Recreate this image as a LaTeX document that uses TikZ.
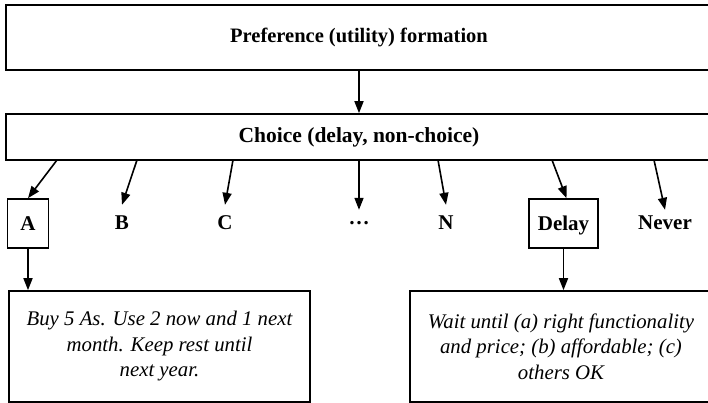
\documentclass[tikz,border=0pt]{standalone}
\usepackage{fontspec}
\setmainfont{Liberation Serif}
\usetikzlibrary{arrows.meta}
\tikzset{box/.style={
		draw,
		line width=1.6pt,
		text height=15pt,
		text depth=2pt,
		font=\fontsize{21}{22}\selectfont\bfseries},
	opt/.style={
		minimum height=36pt,
		text height=15pt,
		text depth=2pt,
		font=\fontsize{21}{22}\selectfont\bfseries},
	note/.style={
		draw,
		line width=1.6pt,
		align=flush center,
		font=\fontsize{20.8}{25.5}\selectfont\itshape},
	arr/.style={
		-{Triangle[length=12pt,width=9pt]},
		line width=1.6pt}
	}

\begin{document}
\begin{tikzpicture}[x=1pt,y=-1pt]
			\clip (0,0) rectangle (708,403);
			\node [draw, line width=1.6pt, font=\fontsize{20.5}{22}\selectfont\bfseries, minimum width=706pt, minimum height=65pt] (pref) at (359,37.5) {Preference (utility) formation};
			\node [draw, line width=1.6pt, font=\fontsize{21.5}{22}\selectfont\bfseries, minimum width=706pt, minimum height=46pt] (choice) at (359,137) {Choice (delay, non-choice)};
			\draw [arr] (pref) -- (choice);
			% options
			\node [box, minimum width=41pt, minimum height=49pt] (a) at (28,223.5) {A};
			\node [opt] (b) at (122,223) {B};
			\node [opt] (c) at (225,223) {C};
			\node [opt, minimum height=20pt, text height=8pt, text depth=0pt] (dots) at (359,220) {\dots};
			\node [opt] (n) at (446,223) {N};
			\node [box, minimum width=69pt, minimum height=49pt] (delay) at (563.5,223.5) {Delay};
			\node [opt, minimum height=26pt] (never) at (665,223) {Never};
			\coordinate (sa) at (57,160);
			\coordinate (sb) at (137,160);
			\coordinate (sc) at (233,160);
			\coordinate (sd) at (359,160);
			\coordinate (sn) at (438,160);
			\coordinate (sy) at (552,160);
			\coordinate (sv) at (654,160);
			\draw [arr] (sa) -- (a.north);
			\draw [arr] (sb) -- (b.north);
			\draw [arr] (sc) -- (c.north);
			\draw [arr] (sd) -- (dots.north);
			\draw [arr] (sn) -- (n.north);
			\draw [arr] (sy) -- ([xshift=3pt]delay.north);
			\draw [arr] (sv) -- (never.north);
			% outcomes
			\node [note, minimum width=301pt, minimum height=111pt] (buy) at (159.5,346.5) {Buy 5 As. Use 2 now and 1 next\\ month. Keep rest until\\ next year.};
			\node [note, minimum width=302pt, minimum height=111pt] (wait) at (561,346.5) {Wait until (a) right functionality\\ and price; (b) affordable; (c)\\ others OK};
			\draw [arr] (a) -- (a |- buy.north);
			\draw [arr] (delay) -- (delay |- wait.north);
		\end{tikzpicture}
\end{document}
